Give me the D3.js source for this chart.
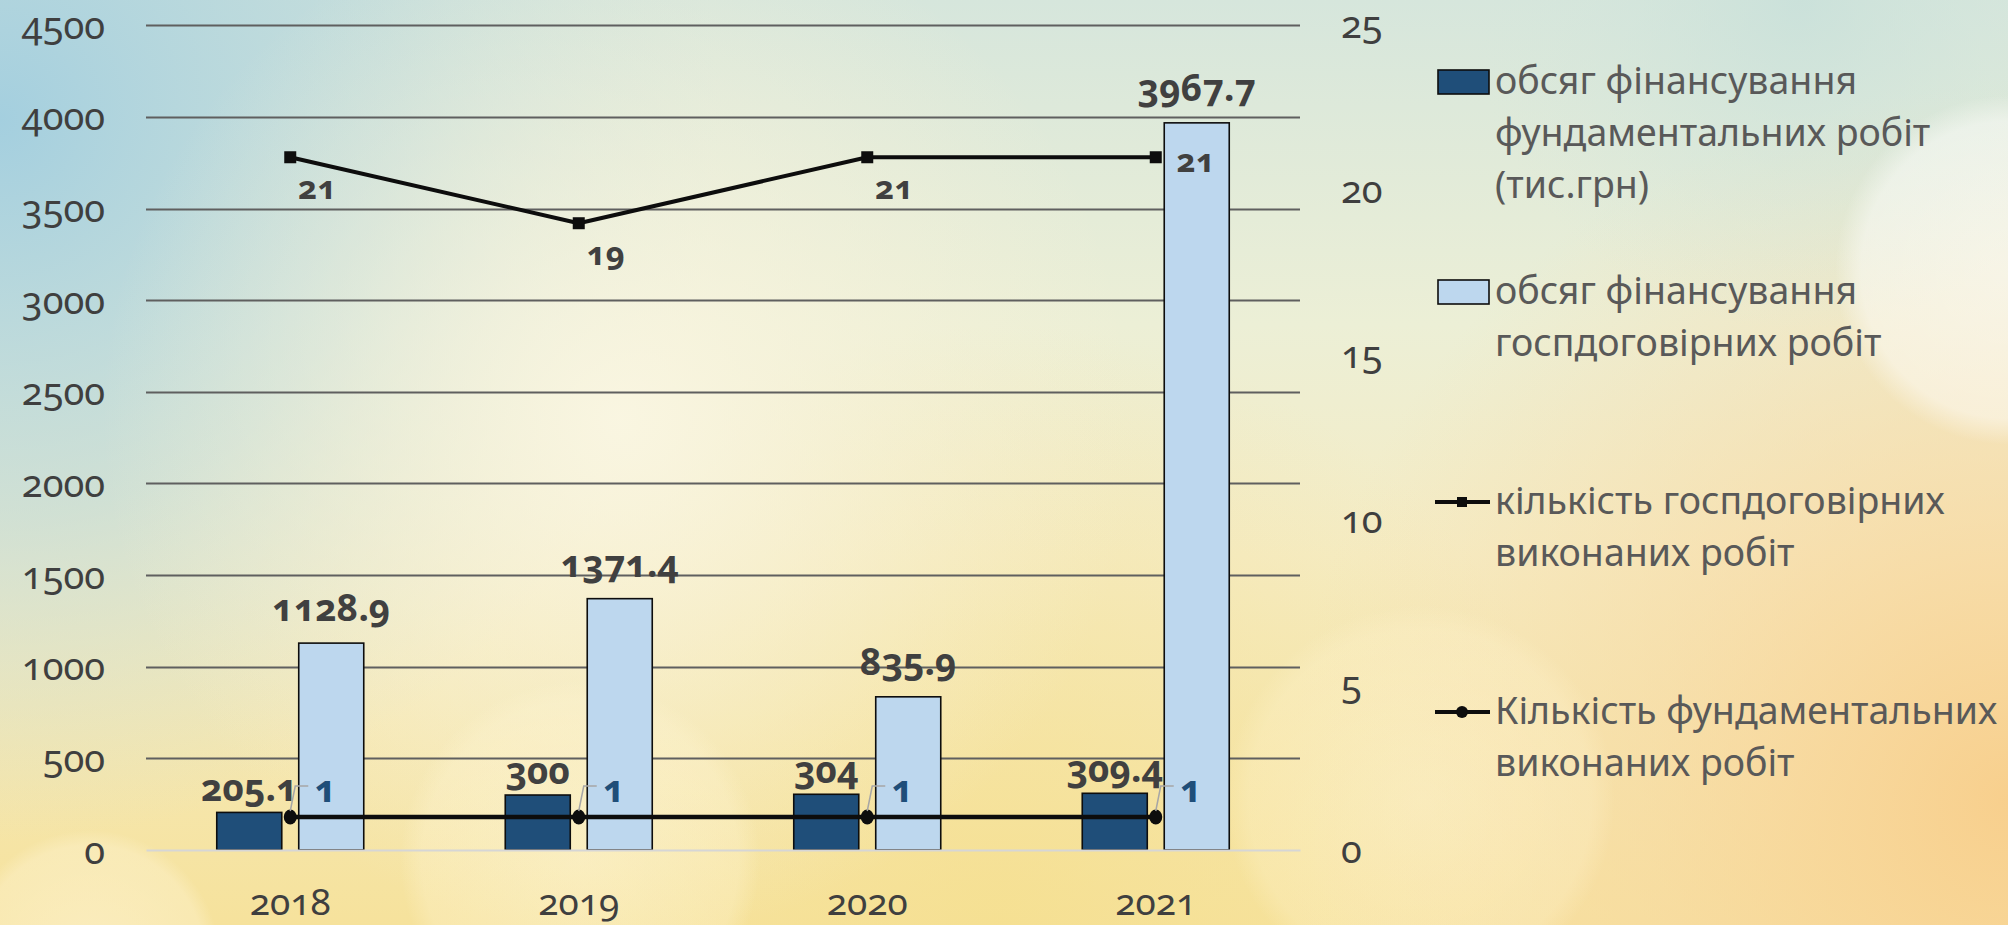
<!DOCTYPE html>
<html><head><meta charset="utf-8">
<script src="https://cdn.jsdelivr.net/npm/d3@7/dist/d3.min.js"></script>
<style>
html,body{margin:0;padding:0;overflow:hidden;background:#f3eccb;}
svg{display:block;}
text{font-family:"Noto Sans","Open Sans",sans-serif;font-variant-numeric:oldstyle-nums;}
</style></head>
<body>
<svg id="chart" width="2008" height="925"></svg>
<script>
const years = ["2018", "2019", "2020", "2021"];
const fundFunding = [205.1, 300, 304, 309.4];
const contractFunding = [1128.9, 1371.4, 835.9, 3967.7];
const contractCount = [21, 19, 21, 21];
const fundCount = [1, 1, 1, 1];
const leftTicks = [0, 500, 1000, 1500, 2000, 2500, 3000, 3500, 4000, 4500];
const rightTicks = [0, 5, 10, 15, 20, 25];
const contractLabelPos = ["below", "below", "below", "right"];
const legendLabels = [
  ["обсяг фінансування", "фундаментальних робіт", "(тис.грн)"],
  ["обсяг фінансування", "госпдоговірних робіт"],
  ["кількість госпдоговірних", "виконаних робіт"],
  ["Кількість фундаментальних", "виконаних робіт"]
];

const W = 2008, H = 925;
const svg = d3.select("#chart");
const defs = svg.append("defs");

// ---------- background ----------
function lin(id, stops, x1, y1, x2, y2) {
  const g = defs.append("linearGradient").attr("id", id)
    .attr("x1", x1).attr("y1", y1).attr("x2", x2).attr("y2", y2);
  stops.forEach(s => g.append("stop").attr("offset", s[0]).attr("stop-color", s[1]).attr("stop-opacity", s[2] == null ? 1 : s[2]));
}
function rad(id, stops, cx, cy, r) {
  const g = defs.append("radialGradient").attr("id", id).attr("gradientUnits", "userSpaceOnUse")
    .attr("cx", cx).attr("cy", cy).attr("r", r);
  stops.forEach(s => g.append("stop").attr("offset", s[0]).attr("stop-color", s[1]).attr("stop-opacity", s[2] == null ? 1 : s[2]));
}
lin("bgBase", [[0, "#d6e6dc"], [0.35, "#ecefd6"], [0.6, "#f5ecc4"], [1, "#f6e29c"]], 0, 0, 0, 1);
rad("bgBlue", [[0, "#a4cfdf", 1], [0.55, "#b9d8dc", 0.6], [1, "#c8dfdc", 0]], 0, 120, 720);
rad("bgCream", [[0, "#faf6e2", 0.95], [1, "#f7f1d6", 0]], 620, 420, 520);
rad("bgOrange", [[0, "#f8cd8a", 0.9], [0.5, "#f8d8a2", 0.55], [1, "#f8dcaa", 0]], 2008, 800, 720);
rad("bgTopRight", [[0, "#c8e0da", 0.8], [1, "#d6e7dc", 0]], 1800, 0, 330);
rad("bgBottom", [[0, "#f5df8e", 0.7], [1, "#f6e29c", 0]], 1000, 925, 600);

svg.append("rect").attr("width", W).attr("height", H).attr("fill", "url(#bgBase)");
svg.append("rect").attr("width", W).attr("height", H).attr("fill", "url(#bgBlue)");
svg.append("rect").attr("width", W).attr("height", H).attr("fill", "url(#bgBottom)");
svg.append("rect").attr("width", W).attr("height", H).attr("fill", "url(#bgOrange)");
svg.append("rect").attr("width", W).attr("height", H).attr("fill", "url(#bgTopRight)");
svg.append("rect").attr("width", W).attr("height", H).attr("fill", "url(#bgCream)");

// bokeh circles
rad("bk1", [[0, "#ffffff", 0.55], [0.85, "#ffffff", 0.45], [1, "#ffffff", 0]], 2010, 270, 175);
rad("bk2", [[0, "#fff8dc", 0.45], [0.88, "#fff6d6", 0.3], [1, "#fff6d6", 0]], 580, 860, 180);
rad("bk3", [[0, "#fff8dc", 0.4], [0.88, "#fff4d0", 0.28], [1, "#fff4d0", 0]], 1420, 800, 195);
rad("bk4", [[0, "#fff8e2", 0.5], [0.88, "#fff6da", 0.35], [1, "#fff6da", 0]], 90, 960, 130);
svg.append("circle").attr("cx", 2010).attr("cy", 270).attr("r", 175).attr("fill", "url(#bk1)");
svg.append("circle").attr("cx", 580).attr("cy", 860).attr("r", 180).attr("fill", "url(#bk2)");
svg.append("circle").attr("cx", 1420).attr("cy", 800).attr("r", 195).attr("fill", "url(#bk3)");
svg.append("circle").attr("cx", 90).attr("cy", 960).attr("r", 130).attr("fill", "url(#bk4)");

// ---------- scales ----------
const plotL = 146, plotR = 1300, plotT = 25.3, plotB = 850;
const x0 = d3.scaleBand().domain(years).range([plotL, plotR]).padding(0);
const x1 = d3.scaleBand().domain(["fund", "contract"]).range([0, x0.bandwidth()])
  .paddingInner(0.207).paddingOuter(0.863);
const yL = d3.scaleLinear().domain([0, 4500]).range([plotB, plotT]);
const yR = d3.scaleLinear().domain([0, 25]).range([plotB, plotT]);
const cx = d => x0(d) + x0.bandwidth() / 2;

const tickColor = "#3f3f3f";

// gridlines + left axis
const gLeft = svg.append("g").attr("transform", `translate(${plotL},0)`)
  .call(d3.axisLeft(yL).tickValues(leftTicks).tickSize(0).tickPadding(41).tickFormat(d3.format("d")));
gLeft.select(".domain").remove();
gLeft.selectAll("text").attr("dy", null).attr("y", 13)
  .attr("fill", tickColor).style("font-size", "38px");

const grid = svg.append("g");
grid.selectAll("line").data(leftTicks.filter(t => t > 0)).join("line")
  .attr("x1", plotL).attr("x2", plotR)
  .attr("y1", d => Math.round(yL(d)) + 0.5).attr("y2", d => Math.round(yL(d)) + 0.5)
  .attr("stroke", "#5f5f5f").attr("stroke-width", 2);

// right axis
const gRight = svg.append("g").attr("transform", `translate(${plotR},0)`)
  .call(d3.axisRight(yR).tickValues(rightTicks).tickSize(0).tickPadding(41).tickFormat(d3.format("d")));
gRight.select(".domain").remove();
gRight.selectAll("text").attr("dy", null).attr("y", 12)
  .attr("fill", tickColor).style("font-size", "38px");

// ---------- bars ----------
const barData = [];
years.forEach((y, i) => {
  barData.push({ year: y, key: "fund", v: fundFunding[i] });
  barData.push({ year: y, key: "contract", v: contractFunding[i] });
});
const barColor = { fund: "#1f4e79", contract: "#bdd7ee" };
svg.append("g").selectAll("rect").data(barData).join("rect")
  .attr("x", d => x0(d.year) + x1(d.key))
  .attr("width", x1.bandwidth())
  .attr("y", d => yL(d.v))
  .attr("height", d => yL(0) - yL(d.v))
  .attr("fill", d => barColor[d.key])
  .attr("stroke", "#0d0d0d").attr("stroke-width", 1.6);

// x axis (zero line)
const gX = svg.append("g").attr("transform", `translate(0,${plotB})`)
  .call(d3.axisBottom(x0).tickSize(0).tickPadding(0));
gX.select(".domain").attr("stroke", "#d6d6d6").attr("stroke-width", 2.2);
gX.selectAll("text").attr("dy", null).attr("y", 65)
  .attr("fill", tickColor).style("font-size", "37px");

// bar labels
const lblColor = "#404040";
svg.append("g").selectAll("text").data(barData).join("text")
  .attr("x", d => x0(d.year) + x1(d.key) + x1.bandwidth() / 2)
  .attr("y", d => yL(d.v) - (d.key === "contract" ? 22 : 11))
  .attr("text-anchor", "middle")
  .attr("fill", lblColor).style("font-weight", "700").style("font-size", "37px")
  .text(d => String(d.v));

// ---------- lines ----------
const lineC = d3.line().x((d, i) => cx(years[i])).y(d => yR(d));
svg.append("path").datum(contractCount).attr("d", lineC)
  .attr("fill", "none").attr("stroke", "#0d0d0d").attr("stroke-width", 4).attr("stroke-linejoin", "round");
svg.append("g").selectAll("rect").data(contractCount).join("rect")
  .attr("x", (d, i) => cx(years[i]) - 6).attr("y", d => yR(d) - 6)
  .attr("width", 12).attr("height", 12).attr("fill", "#0d0d0d");

svg.append("path").datum(fundCount).attr("d", lineC)
  .attr("fill", "none").attr("stroke", "#0d0d0d").attr("stroke-width", 4.6);
svg.append("g").selectAll("ellipse").data(fundCount).join("ellipse")
  .attr("cx", (d, i) => cx(years[i])).attr("cy", d => yR(d))
  .attr("rx", 6.5).attr("ry", 7.5).attr("fill", "#0d0d0d");

// contract count labels
svg.append("g").selectAll("text").data(contractCount).join("text")
  .attr("x", (d, i) => cx(years[i]) + (contractLabelPos[i] === "right" ? 40 : 27))
  .attr("y", (d, i) => yR(d) + (contractLabelPos[i] === "right" ? 15 : 42))
  .attr("text-anchor", "middle")
  .attr("fill", lblColor).style("font-weight", "700").style("font-size", "33px")
  .text(d => String(d));

// fundamental count labels + leader lines
svg.append("g").selectAll("path").data(fundCount).join("path")
  .attr("d", (d, i) => {
    const px = cx(years[i]), py = yR(d);
    return `M${px},${py - 6} L${px + 5},${py - 31} L${px + 18},${py - 31}`;
  })
  .attr("fill", "none").attr("stroke", "#a6a6a6").attr("stroke-width", 1.5);
svg.append("g").selectAll("text").data(fundCount).join("text")
  .attr("x", (d, i) => cx(years[i]) + 35)
  .attr("y", d => yR(d) - 15)
  .attr("text-anchor", "middle")
  .attr("fill", "#1f4e79").style("font-weight", "700").style("font-size", "38px")
  .text(d => String(d));

// ---------- legend ----------
const lg = svg.append("g");
const legX = 1438, textX = 1495, legTop = 82, legStep = 210, lineH = 52;
legendLabels.forEach((lines, i) => {
  const cy = legTop + i * legStep;
  if (i < 2) {
    lg.append("rect").attr("x", legX).attr("y", cy - 12).attr("width", 51).attr("height", 24)
      .attr("fill", i === 0 ? barColor.fund : barColor.contract)
      .attr("stroke", "#0d0d0d").attr("stroke-width", 1.6);
  } else {
    lg.append("line").attr("x1", legX - 3).attr("x2", legX + 52).attr("y1", cy).attr("y2", cy)
      .attr("stroke", "#0d0d0d").attr("stroke-width", 4.2);
    if (i === 2) {
      lg.append("rect").attr("x", legX + 19).attr("y", cy - 5).attr("width", 10).attr("height", 10).attr("fill", "#0d0d0d");
    } else {
      lg.append("circle").attr("cx", legX + 24).attr("cy", cy).attr("r", 6).attr("fill", "#0d0d0d");
    }
  }
  const t = lg.append("text").attr("x", textX).attr("y", cy + 12)
    .attr("fill", "#595959").style("font-size", "37.5px");
  lines.forEach((s, k) => {
    t.append("tspan").attr("x", textX).attr("dy", k === 0 ? 0 : lineH).text(s);
  });
});
</script>
</body></html>
